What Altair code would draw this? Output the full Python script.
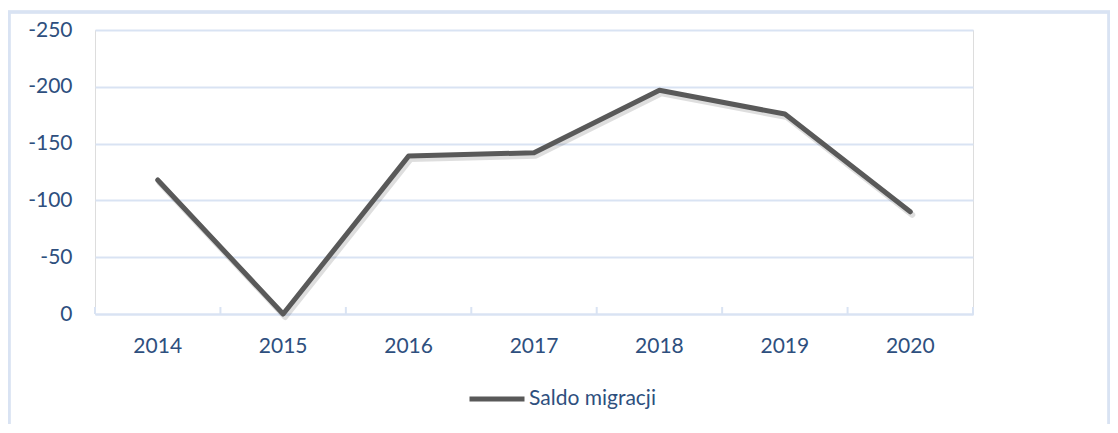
import altair as alt
import pandas as pd

years = ["2014", "2015", "2016", "2017", "2018", "2019", "2020"]
saldo = [-118, 0, -139, -142, -197, -176, -90]
series_name = "Saldo migracji"
y_ticks = [-250, -200, -150, -100, -50, 0]

df = pd.DataFrame({"year": years, "value": saldo, "series": [series_name] * len(years)})

W, H = 878, 284
FONT = "Lato"
TXT = "#2E4F7E"
GRID = "#d9e3f3"

xscale = alt.Scale(type="band", paddingInner=0, paddingOuter=0, domain=years)
yscale = alt.Scale(domain=[-250, 0], reverse=True, nice=False)

base = alt.Chart(df)

shadow = base.mark_line(color="#000000", opacity=0.13, strokeWidth=6,
                        xOffset=2, yOffset=3, strokeCap="round", strokeJoin="round").encode(
    x=alt.X("year:O", scale=xscale, bandPosition=0.5),
    y=alt.Y("value:Q", scale=yscale),
)

line = base.mark_line(strokeWidth=5, strokeCap="round", strokeJoin="round").encode(
    x=alt.X("year:O", scale=xscale, bandPosition=0.5,
            axis=alt.Axis(title=None, labelAngle=0, labelAlign="center", ticks=False,
                          domainColor=GRID, domainWidth=2, grid=False,
                          labelFont=FONT, labelFontSize=21, labelColor=TXT,
                          labelPadding=32)),
    y=alt.Y("value:Q", scale=yscale,
            axis=alt.Axis(title=None, values=y_ticks, labelExpr="'' + datum.value",
                          domain=False, ticks=False, grid=True, gridColor=GRID,
                          gridWidth=2, labelFont=FONT, labelFontSize=21,
                          labelColor=TXT, labelPadding=23)),
    color=alt.Color("series:N", scale=alt.Scale(range=["#595959"]),
                    legend=alt.Legend(title=None, orient="none", legendX=372, legendY=339,
                                      symbolType="stroke", symbolSize=3025,
                                      symbolStrokeWidth=5, labelFont=FONT,
                                      labelFontSize=21, labelColor=TXT,
                                      labelOffset=2, padding=0)),
)

ticks = base.mark_rule(color=GRID, strokeWidth=2).encode(
    x=alt.X("year:O", scale=xscale, bandPosition=0),
    y=alt.value(H - 7), y2=alt.value(H),
)

end_tick = base.mark_rule(color=GRID, strokeWidth=2).encode(
    x=alt.value(W), y=alt.value(H - 7), y2=alt.value(H),
)

frame = base.mark_rect(filled=False, stroke=GRID, strokeWidth=2.5).encode(
    x=alt.value(-86), x2=alt.value(1014), y=alt.value(-18), y2=alt.value(440),
)

chart = alt.layer(frame, ticks, end_tick, shadow, line).properties(
    width=W, height=H,
    autosize=alt.AutoSizeParams(type="none"),
    padding={"left": 87, "top": 22, "right": 137, "bottom": 110},
).configure_view(stroke=None).configure(background="white")

chart.save("out.html", embed_options={"renderer": "svg", "actions": False})
